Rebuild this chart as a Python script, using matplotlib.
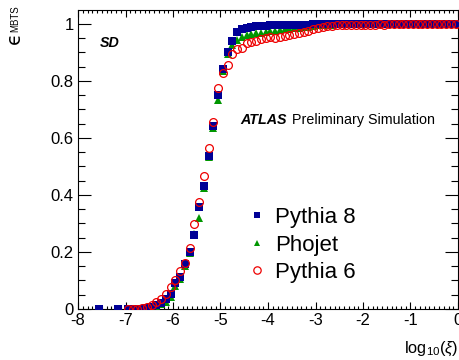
import numpy as np
import matplotlib
matplotlib.use('Agg')
import matplotlib.pyplot as plt
from matplotlib import ticker
from matplotlib.lines import Line2D

plt.rcParams['font.family'] = ['Liberation Sans', 'DejaVu Sans']
plt.rcParams['axes.unicode_minus'] = False
plt.rcParams['mathtext.fontset'] = 'custom'
plt.rcParams['mathtext.rm'] = 'Liberation Sans'
plt.rcParams['mathtext.it'] = 'Liberation Sans:italic'
plt.rcParams['mathtext.fallback'] = 'stixsans'

# bin centres in log10(xi), 0.1 wide from -7 to 0
bin_x = np.round(np.arange(-6.95, 0.0, 0.1), 2)

# extra low-xi Pythia 8 bins
p8_low_x = [-7.55, -7.15]
p8_low_y = [0.0, 0.0]

pythia8 = [0.000, 0.000, 0.000, 0.001, 0.003, 0.007, 0.013, 0.022, 0.034, 0.051,
           0.090, 0.113, 0.158, 0.201, 0.260, 0.357, 0.432, 0.538, 0.642, 0.751,
           0.843, 0.903, 0.940, 0.972, 0.983, 0.987, 0.990, 0.992, 0.993, 0.994,
           0.995, 0.995, 0.996, 0.996, 0.997, 0.997, 0.998, 0.998, 0.998, 0.999,
           1.000, 1.000, 1.000, 1.000, 1.000, 1.000, 1.000, 1.000, 1.000, 1.000,
           1.000, 1.000, 1.000, 1.000, 1.000, 1.000, 1.000, 1.000, 1.000, 1.000,
           1.000, 1.000, 1.000, 1.000, 1.000, 1.000, 1.000, 1.000, 1.000, 1.000]

phojet = [0.000, 0.000, 0.000, 0.000, 0.001, 0.004, 0.009, 0.016, 0.026, 0.042,
          0.080, 0.104, 0.150, 0.196, 0.262, 0.318, 0.425, 0.535, 0.635, 0.733,
          0.835, 0.893, 0.925, 0.945, 0.955, 0.960, 0.964, 0.967, 0.970, 0.972,
          0.975, 0.977, 0.979, 0.981, 0.983, 0.985, 0.987, 0.989, 0.991, 0.993,
          0.995, 0.996, 0.997, 0.998, 0.999, 1.000, 1.000, 1.000, 1.000, 1.000,
          1.000, 1.000, 1.000, 1.000, 1.000, 1.000, 1.000, 1.000, 1.000, 1.000,
          1.000, 1.000, 1.000, 1.000, 1.000, 1.000, 1.000, 1.000, 1.000, 1.000]

pythia6 = [0.000, 0.000, 0.001, 0.003, 0.007, 0.014, 0.024, 0.035, 0.052, 0.076,
           0.102, 0.134, 0.160, 0.213, 0.297, 0.374, 0.468, 0.564, 0.655, 0.774,
           0.827, 0.857, 0.894, 0.911, 0.915, 0.932, 0.938, 0.940, 0.947, 0.952,
           0.955, 0.952, 0.955, 0.958, 0.962, 0.966, 0.970, 0.973, 0.977, 0.981,
           0.985, 0.989, 0.992, 0.994, 0.995, 0.996, 0.996, 0.997, 0.997, 0.998,
           0.997, 0.998, 0.998, 0.999, 0.998, 0.999, 0.999, 0.999, 1.000, 0.999,
           0.999, 1.000, 1.000, 0.999, 1.000, 1.000, 1.000, 1.000, 1.000, 1.000]

c_p8 = '#000096'
c_ph = '#009600'
c_p6 = '#ee0000'

fig = plt.figure(figsize=(4.6, 3.6), dpi=100)
ax = fig.add_axes([78 / 460, 51 / 360, 380 / 460, 299 / 360])

ax.plot(bin_x, phojet, ls='none', marker='^', ms=5.5, mew=0, color=c_ph, zorder=3)
ax.plot(np.concatenate([p8_low_x, bin_x]), np.concatenate([p8_low_y, pythia8]),
        ls='none', marker='s', ms=5.6, mew=0, color=c_p8, zorder=4)
ax.plot(bin_x, pythia6, ls='none', marker='o', ms=5.6, mew=0.9, mfc='none',
        mec=c_p6, zorder=5)

ax.set_xlim(-8, 0)
ax.set_ylim(0, 1.049)
ax.xaxis.set_major_locator(ticker.MultipleLocator(1))
ax.xaxis.set_minor_locator(ticker.MultipleLocator(0.1))
ax.yaxis.set_major_locator(ticker.MultipleLocator(0.2))
ax.yaxis.set_minor_locator(ticker.MultipleLocator(0.05))
ax.xaxis.set_major_formatter(ticker.FormatStrFormatter('%g'))
ax.yaxis.set_major_formatter(ticker.FormatStrFormatter('%g'))

ax.tick_params(axis='both', which='both', direction='in', top=True, right=True,
               width=0.8, labelsize=12, pad=3)
ax.tick_params(axis='x', which='major', length=5)
ax.tick_params(axis='x', which='minor', length=2.5)
ax.tick_params(axis='y', which='major', length=9.4)
ax.tick_params(axis='y', which='minor', length=5)
for sp in ax.spines.values():
    sp.set_linewidth(0.8)

# labels
ax.text(0.058, 0.877, 'SD', transform=ax.transAxes, fontsize=10.3,
        fontweight='bold', fontstyle='italic', ha='left', va='baseline')
ax.text(0.426, 0.619, 'ATLAS', transform=ax.transAxes, fontsize=10.3,
        fontweight='bold', fontstyle='italic', ha='left', va='baseline')
ax.text(0.5624, 0.619, 'Preliminary Simulation', transform=ax.transAxes,
        fontsize=10.3, ha='left', va='baseline')

fig.text(14 / 460, 1 - 38.5 / 360, '\u03f5', rotation=90, fontsize=14,
         family=['DejaVu Sans'], ha='center', va='center')
fig.text(15.5 / 460, 1 - 19 / 360, 'MBTS', rotation=90, fontsize=7,
         ha='center', va='center')
fig.text(458 / 460, 1 - 353 / 360, r'$\mathrm{log}_{10}(\xi)$', fontsize=11.8,
         ha='right', va='baseline')

handles = [
    Line2D([], [], ls='none', marker='s', ms=5, mew=0, color=c_p8, label='Pythia 8'),
    Line2D([], [], ls='none', marker='^', ms=5, mew=0, color=c_ph, label='Phojet'),
    Line2D([], [], ls='none', marker='o', ms=5.3, mew=0.9, mfc='none', mec=c_p6,
           label='Pythia 6'),
]
ax.legend(handles=handles, loc='center left', bbox_to_anchor=(0.4535, 0.214),
          frameon=False, fontsize=16, handlelength=0.6, handletextpad=0.5,
          labelspacing=0.3, borderpad=0, borderaxespad=0)

fig.savefig('out.png', dpi=100)
